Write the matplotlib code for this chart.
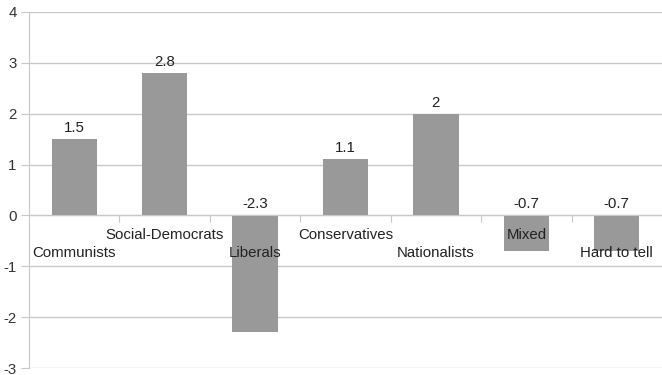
import matplotlib
matplotlib.use("Agg")
import matplotlib.pyplot as plt
import numpy as np

categories = ["Communists", "Social-Democrats", "Liberals", "Conservatives",
              "Nationalists", "Mixed", "Hard to tell"]
values = [1.5, 2.8, -2.3, 1.1, 2.0, -0.7, -0.7]
value_labels = ["1.5", "2.8", "-2.3", "1.1", "2", "-0.7", "-0.7"]
y_ticks = [-3, -2, -1, 0, 1, 2, 3, 4]

plt.rcParams["font.family"] = ["Liberation Sans", "DejaVu Sans"]

fig = plt.figure(figsize=(6.62, 3.75), dpi=100)
ax = fig.add_axes([29 / 662, 1 - 368 / 375, 1 - 29 / 662, (368 - 12) / 375])

x = np.arange(len(categories))
grid_c = "#c8c8c8"
ax.bar(x, values, width=0.5, color="#999999", zorder=3)

ax.set_xlim(-0.5, len(categories) - 0.5)
ax.set_ylim(-3, 4)
ax.set_yticks(y_ticks)
ax.set_yticklabels([str(t) for t in y_ticks], fontsize=10.8, color="#333333")
ax.yaxis.grid(True, color=grid_c, linewidth=1, zorder=0)
ax.tick_params(axis="y", length=6, color=grid_c, pad=3)

for s in ["top", "right"]:
    ax.spines[s].set_visible(False)
ax.spines["left"].set_color(grid_c)
ax.spines["bottom"].set_position(("data", 0))
ax.spines["bottom"].set_color(grid_c)
ax.spines["bottom"].set_zorder(4)

ax.set_xticks(x[:-1] + 0.5)
ax.set_xticklabels([])
ax.tick_params(axis="x", length=5, color=grid_c, direction="out")

# value labels above each bar (negative bars: above the zero line)
for xi, v, lab in zip(x, values, value_labels):
    ax.annotate(lab, (xi, max(v, 0)), xytext=(0, 3), textcoords="offset points",
                ha="center", va="bottom", fontsize=10.8, color="#222222", zorder=5)

# category labels below the zero line, staggered in two rows
for i, (xi, name) in enumerate(zip(x, categories)):
    off = -27 if i % 2 == 0 else -14
    ax.annotate(name, (xi, 0), xytext=(0, off), textcoords="offset points",
                ha="center", va="center", fontsize=10.8, color="#222222", zorder=5)

fig.savefig("out.png", dpi=100)
